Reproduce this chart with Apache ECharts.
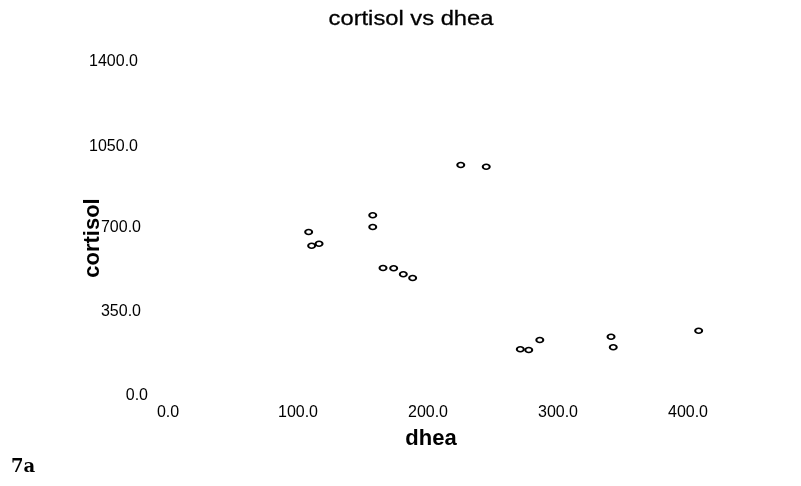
<!DOCTYPE html>
<html>
<head>
<meta charset="utf-8">
<script src="https://cdn.jsdelivr.net/npm/echarts@6/dist/echarts.min.js"></script>
<style>
  html, body { margin: 0; padding: 0; background: #fff; }
  #chart { width: 801px; height: 486px; }
</style>
</head>
<body>
<div id="chart"></div>
<script>
// Observations: dhea (x) against cortisol (y)
const dhea = [225.2, 244.8, 157.5, 157.5, 108.2, 110.5, 116.2, 165.4, 173.6, 181.0,
              188.2, 271.0, 277.5, 286.0, 340.8, 342.5, 408.2];
const cortisol = [959.7, 952.6, 750.7, 702.0, 681.0, 624.0, 632.7, 531.8, 530.5, 505.6,
                  490.2, 194.0, 191.0, 232.6, 246.4, 202.3, 271.3];

const xTicks = [0, 100, 200, 300, 400];
const yTicks = [0, 350, 700, 1050, 1400];

const chartTitle = 'cortisol vs dhea';
const xName = 'dhea';
const yName = 'cortisol';
const panelTag = '7a';

const points = dhea.map((d, i) => [d, cortisol[i]]);
const FONT = '"Liberation Sans", Arial, sans-serif';

const chart = echarts.init(document.getElementById('chart'), null, { renderer: 'canvas' });

chart.setOption({
  backgroundColor: '#ffffff',
  animation: false,
  grid: { left: 168, right: 9, top: 59, bottom: 90, containLabel: false },
  xAxis: {
    type: 'value',
    min: xTicks[0],
    max: 480,
    interval: xTicks[1] - xTicks[0],
    axisLine: { show: false },
    axisTick: { show: false },
    splitLine: { show: false },
    axisLabel: {
      showMaxLabel: false,
      color: '#000',
      fontFamily: FONT,
      fontSize: 16,
      margin: 9,
      formatter: v => (xTicks.includes(v) ? v.toFixed(1) : '')
    }
  },
  yAxis: {
    type: 'value',
    min: yTicks[0],
    max: yTicks[yTicks.length - 1],
    interval: yTicks[1] - yTicks[0],
    axisLine: { show: false },
    axisTick: { show: false },
    splitLine: { show: false },
    axisLabel: {
      color: '#000',
      fontFamily: FONT,
      fontSize: 16,
      margin: 20,
      formatter: v => {
        const s = v.toFixed(1);
        if (v === 0) return '{z|' + s + '}';
        if (v >= 1000) return '{w|' + s + '}';
        return '{n|' + s + '}';
      },
      rich: {
        z: { fontFamily: FONT, fontSize: 16, color: '#000' },
        n: { fontFamily: FONT, fontSize: 16, color: '#000', padding: [0, 7, 0, 0] },
        w: { fontFamily: FONT, fontSize: 16, color: '#000', padding: [6, 10, 0, 0] }
      }
    }
  },
  series: [{
    type: 'scatter',
    data: points,
    symbol: 'circle',
    symbolSize: [7, 5],
    itemStyle: { color: '#ffffff', borderColor: '#000000', borderWidth: 1.7, opacity: 1 }
  }],
  graphic: [
    {
      type: 'text', x: 411, y: 19, scaleX: 1.13,
      style: { text: chartTitle, font: '21px ' + FONT, fill: '#000', stroke: '#000', lineWidth: 0.3,
               align: 'center', verticalAlign: 'middle' }
    },
    {
      type: 'text', x: 431, y: 439,
      style: { text: xName, font: 'bold 22px ' + FONT, fill: '#000', align: 'center', verticalAlign: 'middle' }
    },
    {
      type: 'text', x: 93, y: 238, rotation: Math.PI / 2,
      style: { text: yName, font: 'bold 22px ' + FONT, fill: '#000', align: 'center', verticalAlign: 'middle' }
    },
    {
      type: 'text', x: 11, y: 467,
      style: { text: panelTag, font: 'bold 18px "DejaVu Serif", serif', fill: '#000', align: 'left', verticalAlign: 'middle' }
    }
  ]
});
</script>
</body>
</html>
